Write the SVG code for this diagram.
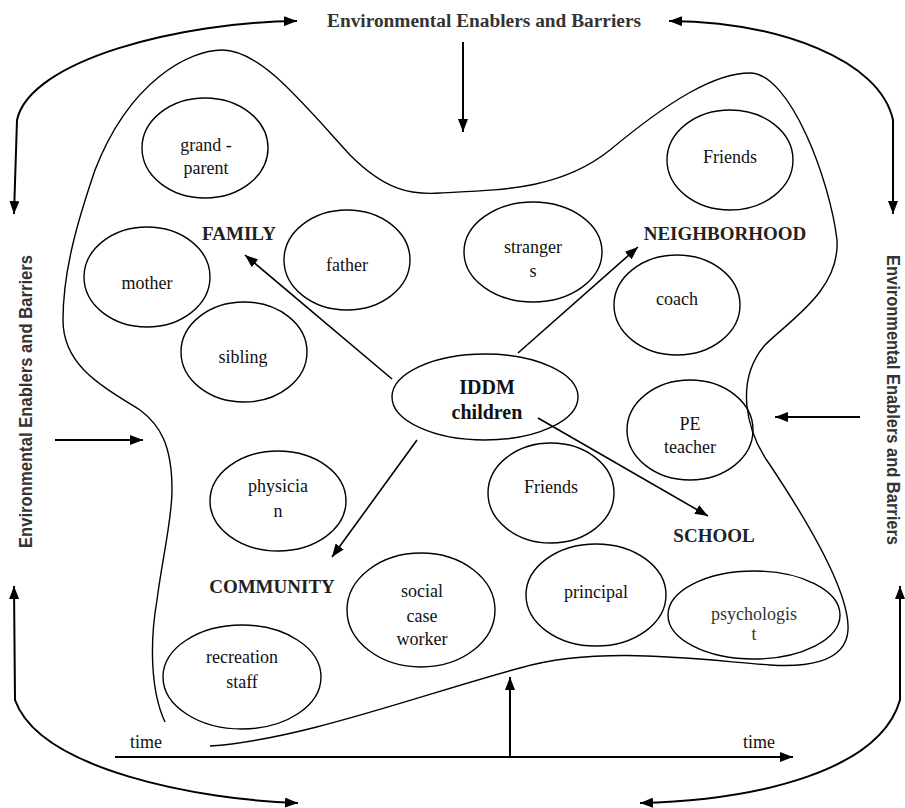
<svg xmlns="http://www.w3.org/2000/svg" width="905" height="808" viewBox="0 0 905 808">
<style>
.bg{fill:#fff}
.node ellipse{fill:none;stroke:#000;stroke-width:1.4}
.lbl{font-family:"Liberation Serif","Times New Roman",serif;font-size:18px;fill:#111;text-anchor:middle}
.head{font-family:"Liberation Serif","Times New Roman",serif;font-size:19px;font-weight:bold;fill:#222;text-anchor:middle}
.env{font-family:"Liberation Serif","Times New Roman",serif;font-size:18px;font-weight:bold;fill:#333}
.envs{font-family:"Liberation Sans",Arial,sans-serif;font-size:19px;font-weight:bold;fill:#333}
.blob{fill:none;stroke:#000;stroke-width:1.4}
.big{fill:none;stroke:#000;stroke-width:2;marker-end:url(#ah)}
.bigd{fill:none;stroke:#000;stroke-width:2;marker-start:url(#ah);marker-end:url(#ah)}
.in{fill:none;stroke:#000;stroke-width:1.6;marker-end:url(#ahs)}
</style>
<defs>
<marker id="ah" viewBox="0 0 10 10" refX="10" refY="5" markerWidth="13" markerHeight="10" markerUnits="userSpaceOnUse" preserveAspectRatio="none" orient="auto-start-reverse"><path d="M0,0 L10,5 L0,10 z" fill="#000"/></marker>
<marker id="ahs" viewBox="0 0 10 10" refX="10" refY="5" markerWidth="13" markerHeight="10" markerUnits="userSpaceOnUse" preserveAspectRatio="none" orient="auto"><path d="M0,0 L10,5 L0,10 z" fill="#000"/></marker>
</defs>
<rect class="bg" x="0" y="0" width="905" height="808"/>

<g id="boundary">
<path class="blob" d="M165,722 C150,690 150,640 157,600 C162,560 172,520 172,490 C172,445 160,425 140,410 C100,385 63,365 63,320 C63,270 78,220 95,170 C130,80 190,50 222,50 C260,50 300,100 350,155 C385,190 410,195 440,193 C500,190 560,190 610,150 C670,100 715,73 750,73 C790,73 830,180 837,240 C840,290 790,320 765,345 C735,380 745,430 770,465 C800,510 850,590 848,630 C846,665 800,667 770,665 C700,660 600,645 520,668 C420,695 300,740 210,746"/>
</g>

<g id="env-labels">
<text class="env" x="327" y="27" textLength="314" lengthAdjust="spacingAndGlyphs">Environmental Enablers and Barriers</text>
<text class="envs" transform="translate(32,548) rotate(-90)" textLength="293" lengthAdjust="spacingAndGlyphs">Environmental Enablers and Barriers</text>
<text class="envs" transform="translate(887,255) rotate(90)" textLength="290" lengthAdjust="spacingAndGlyphs">Environmental Enablers and Barriers</text>
<text class="lbl" x="130" y="748" style="text-anchor:start">time</text>
<text class="lbl" x="743" y="748" style="text-anchor:start">time</text>
</g>

<g id="headings">
<text class="head" x="239" y="240">FAMILY</text>
<text class="head" x="725" y="240">NEIGHBORHOOD</text>
<text class="head" x="714" y="542">SCHOOL</text>
<text class="head" x="272" y="593">COMMUNITY</text>
</g>

<g id="connectors">
<path class="bigd" d="M14,214 L17,120 C30,60 180,22 297,21"/>
<path class="bigd" d="M669,21 C780,22 880,60 893,120 L893,214"/>
<path class="bigd" d="M14,586 L15,700 C40,770 200,800 298,803"/>
<path class="bigd" d="M900,586 L900,700 C880,770 760,800 640,803"/>
<path class="big" d="M463,42 L463,132"/>
<path class="big" d="M55,440 L143,440"/>
<path class="big" d="M860,417 L775,417"/>
<path class="big" d="M115,757 L793,757"/>
<path class="big" d="M510,757 L510,677"/>
<path class="in" d="M392,379 L245,255"/>
<path class="in" d="M518,353 L638,247"/>
<path class="in" d="M538,418 L708,516"/>
<path class="in" d="M417,440 L332,557"/>
</g>

<g id="n-grandparent" class="node"><ellipse cx="205" cy="148" rx="63" ry="50"/><text class="lbl" x="206" y="151">grand -</text><text class="lbl" x="206" y="174">parent</text></g>
<g id="n-friends-top" class="node"><ellipse cx="730" cy="160" rx="63" ry="50"/><text class="lbl" x="730" y="163">Friends</text></g>
<g id="n-mother" class="node"><ellipse cx="147" cy="277" rx="63" ry="50"/><text class="lbl" x="147" y="289">mother</text></g>
<g id="n-father" class="node"><ellipse cx="347" cy="260" rx="63" ry="50"/><text class="lbl" x="347" y="271">father</text></g>
<g id="n-sibling" class="node"><ellipse cx="244" cy="352" rx="63" ry="50"/><text class="lbl" x="243" y="363">sibling</text></g>
<g id="n-strangers" class="node"><ellipse cx="533" cy="252" rx="69" ry="50"/><text class="lbl" x="533" y="253">stranger</text><text class="lbl" x="533" y="277">s</text></g>
<g id="n-coach" class="node"><ellipse cx="677" cy="305" rx="63" ry="50"/><text class="lbl" x="677" y="305">coach</text></g>
<g id="n-iddm" class="node"><ellipse cx="485" cy="397" rx="93" ry="43"/><text class="lbl" x="487" y="394" style="font-weight:bold;font-size:20px">IDDM</text><text class="lbl" x="487" y="419" style="font-weight:bold;font-size:20px">children</text></g>
<g id="n-peteacher" class="node"><ellipse cx="690" cy="430" rx="63" ry="50"/><text class="lbl" x="690" y="430">PE</text><text class="lbl" x="690" y="453">teacher</text></g>
<g id="n-physician" class="node"><ellipse cx="278" cy="501" rx="68" ry="50"/><text class="lbl" x="278" y="492">physicia</text><text class="lbl" x="278" y="517">n</text></g>
<g id="n-friends-mid" class="node"><ellipse cx="551" cy="493" rx="63" ry="50"/><text class="lbl" x="551" y="493">Friends</text></g>
<g id="n-socialcase" class="node"><ellipse cx="421" cy="610" rx="74" ry="57"/><text class="lbl" x="422" y="597">social</text><text class="lbl" x="422" y="622">case</text><text class="lbl" x="422" y="645">worker</text></g>
<g id="n-principal" class="node"><ellipse cx="596" cy="595" rx="70" ry="51"/><text class="lbl" x="596" y="598">principal</text></g>
<g id="n-psychologist" class="node"><ellipse cx="754" cy="615" rx="86" ry="44"/><text class="lbl" x="754" y="620" style="fill:#333">psychologis</text><text class="lbl" x="754" y="640" style="fill:#333">t</text></g>
<g id="n-recreation" class="node"><ellipse cx="242" cy="677" rx="79" ry="52"/><text class="lbl" x="242" y="663">recreation</text><text class="lbl" x="242" y="688">staff</text></g>
</svg>
